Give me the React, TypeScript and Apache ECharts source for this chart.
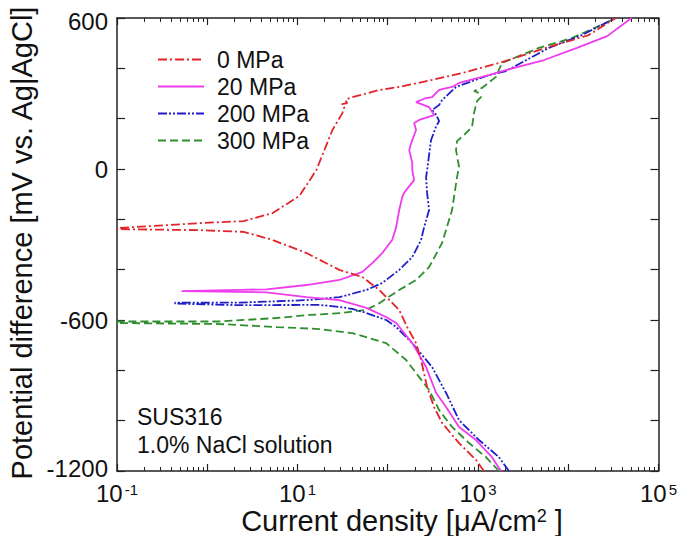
import React, { useEffect, useRef } from 'react';
import * as echarts from 'echarts';

// ---- axis tick values ----
const decadeTicks = [0.1, 1, 10, 100, 1000, 10000, 100000];
const labeledDecades = [0.1, 10, 1000, 100000];
const minorMultipliers = [2, 3, 4, 5, 6, 7, 8, 9];
const yLabelValues = [-1200, -600, 0, 600];

// ---- series ----
const seriesNames = ['0 MPa', '20 MPa', '200 MPa', '300 MPa'];
const seriesColors = ['#e3242b', '#ee3cee', '#1f1fc8', '#2f8f2f'];

// [current density µA/cm², potential mV]
const mpa0: [number, number][] = [
  [1164, -1200], [951, -1156], [617, -1089], [400, -1009], [326, -946], [273, -866],
  [234, -759], [206, -692], [164, -628], [134, -560], [80.6, -481], [52.3, -429],
  [29.1, -401], [12.6, -334], [5.3, -282], [2.53, -250], [0.83, -243], [0.1, -239],
  [0.1, -235], [0.83, -215], [2.53, -207], [5.3, -175], [10.5, -107], [16.2, -4],
  [24.4, 155], [31.4, 222], [33, 246], [31, 258], [35.6, 262], [34, 272], [37.5, 282],
  [55, 298], [80.6, 314], [134, 326], [310, 354], [736, 385], [1841, 425], [6092, 485],
  [16860, 532], [33500, 600],
];

const mpa20: [number, number][] = [
  [1797, -1200], [1429, -1145], [951, -1077], [617, -1025], [443, -946], [344, -890],
  [266, -787], [187, -692], [124, -612], [96, -588], [58, -552], [29.1, -521],
  [12.6, -509], [4.54, -490], [0.52, -485],
  [0.52, -483], [2.29, -480], [4.54, -478], [12.6, -461], [29.1, -441], [52.3, -409],
  [67.4, -374], [86.9, -334], [112, -282], [124, -231], [134, -163], [145, -111],
  [152, -95], [160, -84], [196, -44], [187, -4], [187, 24], [173, 75], [182, 103],
  [206, 155], [196, 183], [223, 195], [326, 214], [287, 246], [206, 266], [266, 282],
  [310, 286], [371, 314], [516, 326], [617, 342], [1324, 373], [2037, 393],
  [5400, 433], [12500, 481], [27000, 528], [50350, 600],
];

const mpa200: [number, number][] = [
  [2202, -1200], [1708, -1145], [1026, -1077], [617, -998], [443, -890], [310, -787],
  [187, -692], [124, -628], [96.2, -600], [57.8, -572], [40.5, -556], [29.1, -548],
  [17.5, -540], [2.29, -541], [0.44, -535],
  [0.44, -531], [2.29, -531], [12.6, -521], [29.1, -509], [57.8, -481], [86.9, -453],
  [134, -401], [187, -350], [234, -282], [253, -231], [287, -163], [273, -95],
  [266, -32], [273, -4], [302, 115], [344, 170], [371, 190], [344, 215], [310, 234],
  [371, 254], [400, 274], [571, 326], [1324, 373], [2037, 389], [6092, 481],
  [14090, 532], [33500, 600],
];

const mpa300: [number, number][] = [
  [1708, -1200], [1225, -1145], [796, -1089], [516, -1025], [371, -958], [287, -878],
  [223, -827], [160, -759], [96.2, -692], [40.5, -652], [17.5, -636], [5.86, -628],
  [1.37, -616], [0.1, -612],
  [0.1, -606], [1.37, -606], [5.86, -592], [13.6, -580], [31.4, -572], [57.8, -560],
  [80.6, -533], [134, -481], [206, -441], [287, -390], [400, -294], [516, -163],
  [586, -32], [617, 8], [571, 75], [586, 111], [700, 135], [859, 167], [903, 222],
  [975, 270], [1079, 286], [1026, 302], [903, 310], [1107, 322], [1581, 366],
  [1841, 421], [4723, 481], [10940, 520], [25960, 580], [33500, 600],
];

const seriesData = [mpa0, mpa20, mpa200, mpa300];
const lineTypes: any[] = [
  [9, 3, 2, 3],
  'solid',
  [9, 2, 2, 2, 2, 2],
  [8, 4],
];

const FONT = '"Liberation Sans", Arial, Helvetica, sans-serif';
const AXIS_COLOR = '#222';

export default function App() {
  const ref = useRef<HTMLDivElement>(null);

  useEffect(() => {
    if (!ref.current) return;
    const chart = echarts.init(ref.current, undefined, { renderer: 'svg' });

    const minorTicks: number[] = [];
    decadeTicks.slice(0, -1).forEach((d) => minorMultipliers.forEach((m) => minorTicks.push(d * m)));

    const baseX = {
      type: 'log',
      logBase: 10,
      min: 0.1,
      max: 100000,
      gridIndex: 0,
      splitLine: { show: false },
      minorTick: { show: false },
    };

    const lineOn = { show: true, onZero: false, lineStyle: { color: AXIS_COLOR, width: 1.5 } };
    const lineOff = { show: false, onZero: false };

    const xAxes: any[] = [
      {
        ...baseX,
        position: 'bottom',
        axisLine: lineOn,
        axisTick: { show: true, inside: true, length: 7, customValues: decadeTicks, lineStyle: { color: AXIS_COLOR, width: 1.2 } },
        axisLabel: {
          show: true,
          customValues: labeledDecades,
          margin: 11,
          color: '#111',
          fontFamily: FONT,
          formatter: (v: number) => `{b|10}{s|${Math.round(Math.log10(v))}}`,
          rich: {
            b: { fontSize: 24, lineHeight: 22, fontFamily: FONT, color: '#111' },
            s: { fontSize: 15, fontFamily: FONT, color: '#111', verticalAlign: 'top', padding: [0, 0, 0, 2] },
          },
        },
      },
      {
        ...baseX,
        position: 'bottom',
        axisLine: lineOff,
        axisTick: { show: true, inside: true, length: 4, customValues: minorTicks, lineStyle: { color: AXIS_COLOR, width: 1 } },
        axisLabel: { show: false },
      },
      {
        ...baseX,
        position: 'top',
        axisLine: lineOn,
        axisTick: { show: true, inside: true, length: 7, customValues: decadeTicks, lineStyle: { color: AXIS_COLOR, width: 1.2 } },
        axisLabel: { show: false },
      },
      {
        ...baseX,
        position: 'top',
        axisLine: lineOff,
        axisTick: { show: true, inside: true, length: 4, customValues: minorTicks, lineStyle: { color: AXIS_COLOR, width: 1 } },
        axisLabel: { show: false },
      },
    ];

    const baseY = {
      type: 'value',
      min: -1200,
      max: 600,
      interval: 200,
      splitLine: { show: false },
    };

    const yAxes: any[] = [
      {
        ...baseY,
        position: 'left',
        axisLine: lineOn,
        axisTick: { show: true, inside: true, length: 8, lineStyle: { color: AXIS_COLOR, width: 1.2 } },
        axisLabel: {
          show: true,
          margin: 9,
          color: '#111',
          fontFamily: FONT,
          formatter: (v: number) => {
            if (!yLabelValues.includes(v)) return '';
            if (v === -1200) return `{lo|${v}}`;
            if (v === 600) return `{hi|${v}}`;
            return `{n|${v}}`;
          },
          rich: {
            n: { fontSize: 24, lineHeight: 16, fontFamily: FONT, color: '#111' },
            lo: { fontSize: 24, lineHeight: 16, fontFamily: FONT, color: '#111', padding: [0, 0, 6, 0] },
            hi: { fontSize: 24, lineHeight: 16, fontFamily: FONT, color: '#111', padding: [6, 0, 0, 0] },
          },
        },
      },
      {
        ...baseY,
        position: 'right',
        axisLine: lineOn,
        axisTick: { show: true, inside: true, length: 8, lineStyle: { color: AXIS_COLOR, width: 1.2 } },
        axisLabel: { show: false },
      },
    ];

    const series = seriesNames.map((name, i) => ({
      name,
      type: 'line',
      xAxisIndex: 0,
      yAxisIndex: 0,
      data: seriesData[i],
      showSymbol: false,
      symbol: 'none',
      clip: true,
      color: seriesColors[i],
      itemStyle: { color: seriesColors[i] },
      lineStyle: { color: seriesColors[i], width: 1.8, type: lineTypes[i] },
      z: 10 - i,
    }));

    chart.setOption({
      animation: false,
      backgroundColor: '#fff',
      grid: { left: 117, right: 20, top: 18, bottom: 65, containLabel: false },
      xAxis: xAxes,
      yAxis: yAxes,
      legend: {
        orient: 'vertical',
        left: 152,
        top: 43,
        itemWidth: 46,
        itemHeight: 14,
        itemGap: 4,
        data: seriesNames,
        itemStyle: { opacity: 0 },
        textStyle: { fontSize: 23, lineHeight: 23, fontFamily: FONT, color: '#111', padding: [0, 0, 0, 8] },
      },
      graphic: [
        {
          type: 'text',
          x: 22,
          y: 243,
          rotation: Math.PI / 2,
          style: {
            text: 'Potential difference [mV vs. Ag|AgCl]',
            fontSize: 29,
            fontFamily: FONT,
            fill: '#111',
            align: 'center',
            verticalAlign: 'middle',
          },
        },
        {
          type: 'text',
          x: 402,
          y: 521,
          style: {
            text: 'Current density [μA/cm{s|2} ]',
            fontSize: 29,
            fontFamily: FONT,
            fill: '#111',
            align: 'center',
            verticalAlign: 'middle',
            rich: { s: { fontSize: 18, fontFamily: FONT, fill: '#111', verticalAlign: 'top' } },
          },
        },
        {
          type: 'text',
          x: 137,
          y: 417,
          style: { text: 'SUS316', fontSize: 23, fontFamily: FONT, fill: '#111', align: 'left', verticalAlign: 'middle' },
        },
        {
          type: 'text',
          x: 137,
          y: 445,
          style: { text: '1.0% NaCl solution', fontSize: 23, fontFamily: FONT, fill: '#111', align: 'left', verticalAlign: 'middle' },
        },
      ],
      series,
    });

    return () => chart.dispose();
  }, []);

  return <div ref={ref} style={{ position: 'fixed', left: 0, top: 0, width: 680, height: 536, background: '#fff' }} />;
}
